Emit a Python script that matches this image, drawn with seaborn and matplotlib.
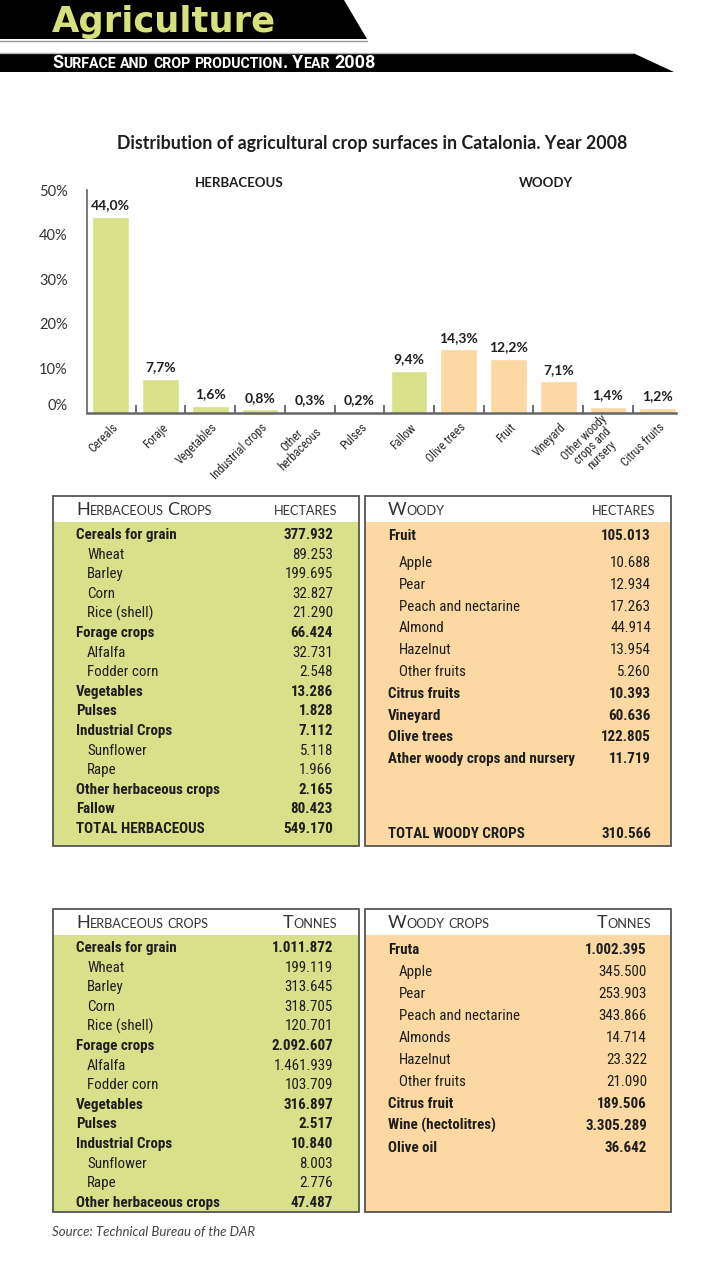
import matplotlib
matplotlib.use("Agg")
import matplotlib.pyplot as plt
import matplotlib.transforms as mtransforms
from matplotlib import font_manager as fm
from matplotlib.patches import Rectangle, Polygon
from matplotlib.ticker import FixedLocator
import seaborn as sns
import pandas as pd

# ---------------- data ----------------
categories = ["Cereals", "Foraje", "Vegetables", "Industrial crops", "Other\nherbaceous",
              "Pulses", "Fallow", "Olive trees", "Fruit", "Vineyard",
              "Other woody\ncrops and\nnursery", "Citrus fruits"]
shares = [44.0, 7.7, 1.6, 0.8, 0.3, 0.2, 9.4, 14.3, 12.2, 7.1, 1.4, 1.2]
groups = ["Herbaceous"] * 7 + ["Woody"] * 5
ytick_values = [0, 10, 20, 30, 40, 50]

herb_ha_labels = ["Cereals for grain", "Wheat", "Barley", "Corn", "Rice (shell)",
                  "Forage crops", "Alfalfa", "Fodder corn", "Vegetables", "Pulses",
                  "Industrial Crops", "Sunflower", "Rape", "Other herbaceous crops",
                  "Fallow", "TOTAL HERBACEOUS"]
herb_ha_values = [377932, 89253, 199695, 32827, 21290, 66424, 32731, 2548, 13286,
                  1828, 7112, 5118, 1966, 2165, 80423, 549170]
herb_ha_level = [0, 1, 1, 1, 1, 0, 1, 1, 0, 0, 0, 1, 1, 0, 0, 0]

woody_ha_labels = ["Fruit", "Apple", "Pear", "Peach and nectarine", "Almond", "Hazelnut",
                   "Other fruits", "Citrus fruits", "Vineyard", "Olive trees",
                   "Ather woody crops and nursery", "TOTAL WOODY CROPS"]
woody_ha_values = [105013, 10688, 12934, 17263, 44914, 13954, 5260, 10393, 60636,
                   122805, 11719, 310566]
woody_ha_level = [0, 1, 1, 1, 1, 1, 1, 0, 0, 0, 0, 0]

herb_t_labels = ["Cereals for grain", "Wheat", "Barley", "Corn", "Rice (shell)",
                 "Forage crops", "Alfalfa", "Fodder corn", "Vegetables", "Pulses",
                 "Industrial Crops", "Sunflower", "Rape", "Other herbaceous crops"]
herb_t_values = [1011872, 199119, 313645, 318705, 120701, 2092607, 1461939, 103709,
                 316897, 2517, 10840, 8003, 2776, 47487]
herb_t_level = [0, 1, 1, 1, 1, 0, 1, 1, 0, 0, 0, 1, 1, 0]

woody_t_labels = ["Fruta", "Apple", "Pear", "Peach and nectarine", "Almonds", "Hazelnut",
                  "Other fruits", "Citrus fruit", "Wine (hectolitres)", "Olive oil"]
woody_t_values = [1002395, 345500, 253903, 343866, 14714, 23322, 21090, 189506,
                  3305289, 36642]
woody_t_level = [0, 1, 1, 1, 1, 1, 1, 0, 0, 0]

# ---------------- style ----------------
GREEN = "#d9e08a"
PEACH = "#fcd9a3"
YELLOW = "#d6e07d"
TXT = "#1e1e1e"

sns.set_theme(style="white")
SANS = ["Lato", "DejaVu Sans"]
plt.rcParams["font.family"] = SANS

# pick a condensed family if one is installed
_fonts = fm.fontManager.ttflist
_names = {f.name for f in _fonts}
COND_NAME = None
for cand in ["Roboto Condensed", "Liberation Sans Narrow", "Barlow Condensed",
             "Asap Condensed", "Archivo Narrow", "Noto Sans Condensed"]:
    if cand in _names:
        COND_NAME = cand
        break
if COND_NAME is None:
    COND_NAME = "Roboto"
COND = [COND_NAME, "DejaVu Sans"]

W, H = 705, 1274
fig = plt.figure(figsize=(W / 100, H / 100), dpi=100)
fig.patch.set_facecolor("white")


def fmt_int(v):
    return f"{v:,}".replace(",", ".")


def fmt_pct(v):
    return f"{v:.1f}".replace(".", ",") + "%"


# ---------------- bar chart ----------------
ax = fig.add_axes([87 / W, 1 - 413 / H, (676 - 87) / W, (413 - 190) / H])
df = pd.DataFrame({"category": categories, "share": shares, "group": groups})
sns.barplot(data=df, x="category", y="share", hue="group",
            palette={"Herbaceous": GREEN, "Woody": PEACH},
            dodge=False, width=0.74, saturation=1, legend=False, ax=ax)
ax.set_facecolor("none")
ax.set_xlim(-0.48, 11.37)
ax.set_ylim(0, 50)
ax.set_xlabel("")
ax.set_ylabel("")
ax.set_yticks(ytick_values)
ax.set_yticklabels([f"{v}%" for v in ytick_values], fontsize=10.5, color="#333333")
ax.get_yticklabels()[0].set_va("bottom")
ax.tick_params(axis="y", length=0, pad=14)

ax.set_xticks(range(len(categories)))
ax.set_xticklabels(categories)
ax.tick_params(axis="x", which="major", length=0, pad=9)
off = mtransforms.ScaledTranslation(4 / 72, 0, fig.dpi_scale_trans)
for lab in ax.get_xticklabels():
    lab.set_rotation(45)
    lab.set_ha("right")
    lab.set_va("center")
    lab.set_rotation_mode("anchor")
    lab.set_fontfamily(COND)
    lab.set_fontsize(8.6)
    lab.set_color("#2a2a2a")
    lab.set_multialignment("center")
    lab.set_linespacing(0.95)
    lab.set_transform(lab.get_transform() + off)
ax.xaxis.set_minor_locator(FixedLocator([i + 0.5 for i in range(len(categories) - 1)]))
ax.tick_params(axis="x", which="minor", bottom=True, direction="in", length=6,
               width=1.2, color="#555555")

for side in ["top", "right"]:
    ax.spines[side].set_visible(False)
ax.spines["left"].set_color("#555555")
ax.spines["left"].set_linewidth(1.1)
ax.spines["bottom"].set_color("#666666")
ax.spines["bottom"].set_linewidth(1.8)

for i, v in enumerate(shares):
    ax.annotate(fmt_pct(v), (i, v), xytext=(0, 4), textcoords="offset points",
                ha="center", va="bottom", fontsize=10, fontweight="bold", color=TXT)

# ---------------- overlay (pixel coordinates) ----------------
ov = fig.add_axes([0, 0, 1, 1])
ov.set_xlim(0, W)
ov.set_ylim(H, 0)
ov.axis("off")
renderer = fig.canvas.get_renderer()


def small_caps(x, y, s, big, small, ha="left", **kw):
    pieces = []
    cx = x
    for wi, word in enumerate(s.split(" ")):
        if wi > 0:
            cx += 0.30 * small * 100 / 72
        runs = []
        for ch in word:
            low = ch.islower()
            if runs and runs[-1][1] == low:
                runs[-1][0] += ch
            else:
                runs.append([ch, low])
        for txt, low in runs:
            t = ov.text(cx, y, txt.upper(), fontsize=small if low else big,
                        ha="left", va="baseline", **kw)
            pieces.append(t)
            cx += t.get_window_extent(renderer=renderer).width
    if ha == "right":
        total = cx - x
        for t in pieces:
            px, py = t.get_position()
            t.set_position((px - total, py))
    return pieces


# header bands
ov.add_patch(Polygon([(0, 0), (344, 0), (367, 39), (0, 39)], closed=True,
                     facecolor="black", edgecolor="none"))
ov.plot([0, 367], [40.5, 40.5], color="#9a9a9a", lw=1)
ov.add_patch(Polygon([(0, 53), (633, 53), (674, 72), (0, 72)], closed=True,
                     facecolor="black", edgecolor="none"))
ov.plot([0, 633], [52.5, 52.5], color="#b0b0b0", lw=1)
ov.text(52, 32, "Agriculture", fontsize=25.5, fontweight="bold", color=YELLOW,
        va="baseline", ha="left", family=["DejaVu Sans"])
small_caps(52, 68, "Surface and crop production. Year 2008", 13, 10.2,
           color="white", fontweight="bold", family=["Roboto", "DejaVu Sans"])

# chart titles
ov.text(372, 143, "Distribution of agricultural crop surfaces in Catalonia. Year 2008",
        ha="center", va="center", fontsize=12.8, fontweight="bold", color=TXT)
ov.text(239, 183, "HERBACEOUS", ha="center", va="center", fontsize=9.5,
        fontweight="bold", color=TXT)
ov.text(546, 183, "WOODY", ha="center", va="center", fontsize=9.5,
        fontweight="bold", color=TXT)


def draw_table(x0, x1, y0, yb, y1, color, title, unit, labels, values, levels,
               baselines, xl, xi, xr, head_base):
    ov.add_patch(Rectangle((x0, y0), x1 - x0, y1 - y0, facecolor="white", edgecolor="none"))
    ov.add_patch(Rectangle((x0, yb), x1 - x0, y1 - yb, facecolor=color, edgecolor="none"))
    ov.add_patch(Rectangle((x0, y0), x1 - x0, y1 - y0, facecolor="none",
                           edgecolor="#555555", lw=1.3))
    small_caps(xl, head_base, title, 13, 9.2, color="#333333", family=SANS)
    small_caps(xr + 4, head_base, unit, 13, 9.2, ha="right", color="#333333", family=SANS)
    for lab, val, lev, yb_ in zip(labels, values, levels, baselines):
        wt = "bold" if lev == 0 else "normal"
        ov.text(xl if lev == 0 else xi, yb_, lab, fontsize=10.8, fontweight=wt,
                family=COND, color=TXT, ha="left", va="baseline")
        ov.text(xr, yb_, fmt_int(val), fontsize=10.8, fontweight=wt,
                family=COND, color=TXT, ha="right", va="baseline")


t1_base = [539 + 19.6 * i for i in range(len(herb_ha_labels))]
draw_table(53, 359, 496, 522, 846, GREEN, "Herbaceous Crops", "hectares",
           herb_ha_labels, herb_ha_values, herb_ha_level, t1_base, 76, 87, 333, 515)

t2_base = [540] + [567 + 21.8 * k for k in range(len(woody_ha_labels) - 2)] + [838]
draw_table(365, 671, 496, 522, 846, PEACH, "Woody", "hectares",
           woody_ha_labels, woody_ha_values, woody_ha_level, t2_base, 388, 399, 651, 515)

t3_base = [952 + 19.6 * i for i in range(len(herb_t_labels))]
draw_table(53, 359, 909, 935, 1212, GREEN, "Herbaceous crops", "Tonnes",
           herb_t_labels, herb_t_values, herb_t_level, t3_base, 76, 87, 333, 928)

t4_base = [954 + 22 * i for i in range(len(woody_t_labels))]
draw_table(365, 671, 909, 935, 1212, PEACH, "Woody crops", "Tonnes",
           woody_t_labels, woody_t_values, woody_t_level, t4_base, 388, 399, 647, 928)

ov.text(52, 1236, "Source: Technical Bureau of the DAR", fontsize=9.5, style="italic",
        color="#444444", ha="left", va="baseline")

fig.savefig("out.png", dpi=100, facecolor="white")
